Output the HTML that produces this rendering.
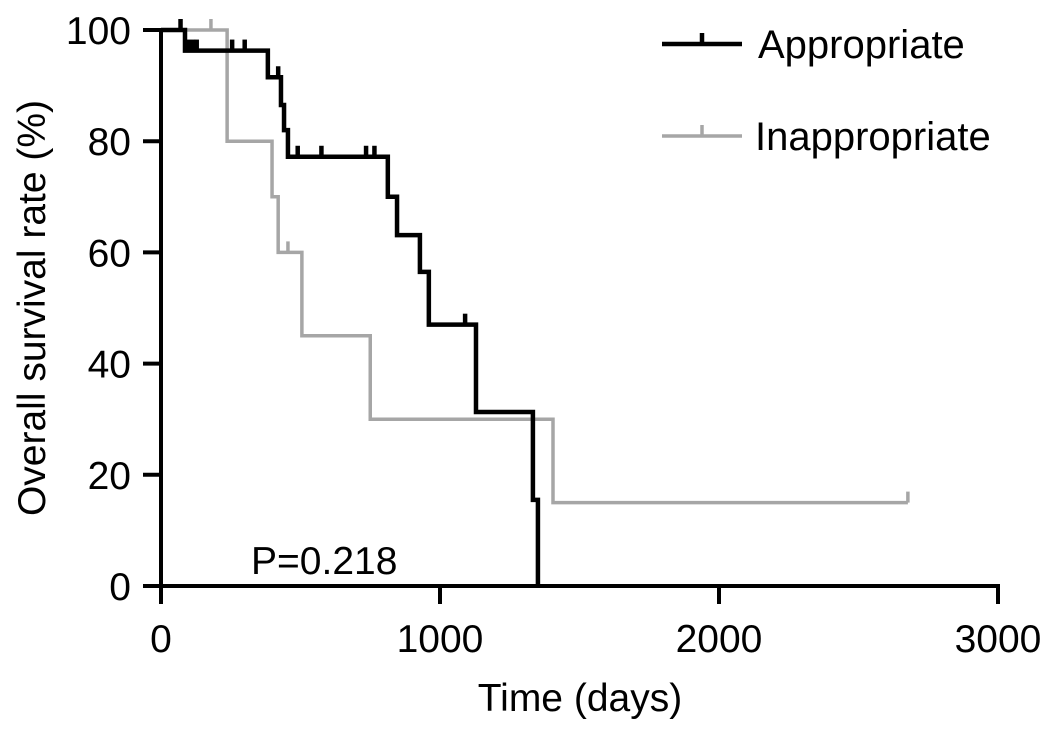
<!DOCTYPE html>
<html><head><meta charset="utf-8"><style>
body{margin:0;background:#fff;}
svg{display:block;font-family:"Liberation Sans",Arial,sans-serif;}
</style></head><body>
<svg id="chart" width="1063" height="737"></svg>
<script>
const xTicks=[0,1000,2000,3000];
const yTicks=[0,20,40,60,80,100];
// Appropriate: event times and survival after each step
const appTimes=[0,86,383,430,441,455,813,846,928,960,1129,1333,1351];
const appSurv=[100,96.3,91.5,86.5,82,77.2,70,63.1,56.5,47,31.3,15.5,0];
const appCensor=[[100,96.3],[115,96.3],[128,96.3],[255,96.3],[300,96.3],[420,91.5],[490,77.2],[575,77.2],[735,77.2],[765,77.2],[1090,47],[70,100]];
// Inappropriate
const inaTimes=[0,237,398,420,505,750,1405,2677];
const inaSurv=[100,80,70,60,45,30,15,15];
const inaCensor=[[179,100],[455,60],[2677,15]];

const NS="http://www.w3.org/2000/svg";
const svg=document.getElementById('chart');
const X=t=>161+t*(837/3000);
const Y=s=>586-s*5.56;
function el(tag,attrs,parent){const e=document.createElementNS(NS,tag);for(const k in attrs)e.setAttribute(k,attrs[k]);(parent||svg).appendChild(e);return e;}

function series(times,surv,cens,color,w,name){
  const g=el('g',{});
  
  
  let d='M'+X(times[0])+','+Y(surv[0]);
  for(let i=1;i<times.length;i++){d+=' H'+X(times[i])+' V'+Y(surv[i]);}
  const p=el('path',{d:d,fill:'none',stroke:color,'stroke-width':w,'stroke-linejoin':'miter'},g);
  
  
  cens.forEach(c=>{
    const l=el('line',{x1:X(c[0]),x2:X(c[0]),y1:Y(c[1]),y2:Y(c[1])-11,stroke:color,'stroke-width':w},g);
    
    
  });
}
series(inaTimes,inaSurv,inaCensor,'#a6a6a6',3.5,'inappropriate-series');
series(appTimes,appSurv,appCensor,'#000',4.5,'appropriate-series');

// axes
const ax=el('g',{});


el('line',{x1:161,x2:161,y1:Y(100),y2:588,stroke:'#000','stroke-width':4},ax);
el('line',{x1:159,x2:X(3000)+2,y1:586,y2:586,stroke:'#000','stroke-width':4},ax);
yTicks.forEach(v=>{
  el('line',{x1:143,x2:161,y1:Y(v),y2:Y(v),stroke:'#000','stroke-width':4},ax);
  const t=el('text',{x:131,y:Y(v)+14,'text-anchor':'end','font-size':39},ax);
  t.textContent=v;
  
  
});
xTicks.forEach(v=>{
  el('line',{x1:X(v),x2:X(v),y1:586,y2:604,stroke:'#000','stroke-width':4},ax);
  const t=el('text',{x:X(v),y:652,'text-anchor':'middle','font-size':39},ax);
  t.textContent=v;
  
  
});
</script>
<div style="position:absolute;left:0;top:0;width:1063px;height:737px;pointer-events:none">
<svg width="1063" height="737" style="font-family:'Liberation Sans',Arial,sans-serif">
<text x="580" y="711" text-anchor="middle" font-size="39">Time (days)</text>
<text transform="translate(45,308) rotate(-90)" text-anchor="middle" font-size="39">Overall survival rate (%)</text>
<text x="251" y="574" font-size="39">P=0.218</text>
<g>
<line x1="662" x2="742" y1="44" y2="44" stroke="#000" stroke-width="4.5"/>
<line x1="702" x2="702" y1="44" y2="33" stroke="#000" stroke-width="4.5"/>
<text x="758" y="58" font-size="40">Appropriate</text>
<line x1="662" x2="742" y1="136" y2="136" stroke="#a6a6a6" stroke-width="3.5"/>
<line x1="702" x2="702" y1="136" y2="125" stroke="#a6a6a6" stroke-width="3.5"/>
<text x="755" y="150" font-size="40">Inappropriate</text>
</g>
</svg></div>
</body></html>
